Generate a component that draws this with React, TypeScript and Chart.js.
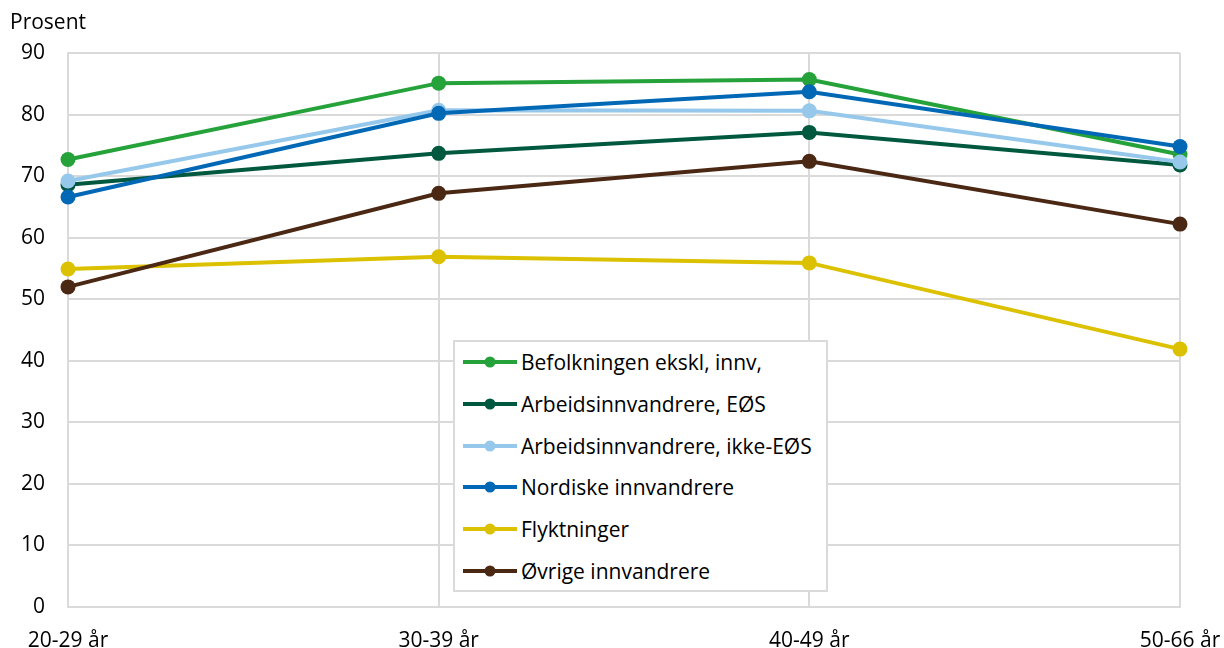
import React, { useEffect, useRef } from "react";
import { Chart, registerables } from "chart.js";

Chart.register(...registerables);

const categories = ["20-29 år", "30-39 år", "40-49 år", "50-66 år"];
const seriesNames = [
  "Befolkningen ekskl, innv,",
  "Arbeidsinnvandrere, EØS",
  "Arbeidsinnvandrere, ikke-EØS",
  "Nordiske innvandrere",
  "Flyktninger",
  "Øvrige innvandrere",
];
const befolkning = [72.7, 85.1, 85.7, 73.5];
const eos = [68.6, 73.7, 77.1, 71.8];
const ikkeEos = [69.2, 80.7, 80.6, 72.3];
const nordiske = [66.6, 80.2, 83.7, 74.8];
const flyktninger = [54.9, 56.9, 55.9, 41.9];
const ovrige = [52.0, 67.2, 72.4, 62.2];
const colors = ["#25a23a", "#00583f", "#96c8ec", "#0068b5", "#dcc100", "#4a2814"];
const yTicks = [0, 10, 20, 30, 40, 50, 60, 70, 80, 90];

const FONT = "'Open Sans', sans-serif";
const FS = 21;

export default function App() {
  const ref = useRef<HTMLCanvasElement | null>(null);
  useEffect(() => {
    const values = [befolkning, eos, ikkeEos, nordiske, flyktninger, ovrige];
    const chart = new Chart(ref.current as HTMLCanvasElement, {
      type: "line",
      data: {
        labels: categories,
        datasets: values.map((v, i) => ({
          label: seriesNames[i],
          data: v,
          borderColor: colors[i],
          backgroundColor: colors[i],
          pointBackgroundColor: colors[i],
          pointBorderColor: colors[i],
          borderWidth: 4,
          pointRadius: 7.5,
          pointBorderWidth: 0,
          tension: 0,
          clip: false as any,
          order: 10 - i,
        })),
      },
      options: {
        animation: false,
        responsive: false,
        maintainAspectRatio: false,
        layout: { padding: { left: 0, right: 44, top: 53, bottom: 0 } },
        plugins: { legend: { display: false }, tooltip: { enabled: false }, title: { display: false } },
        scales: {
          x: {
            offset: false,
            grid: { color: "#dadada", lineWidth: 2, drawTicks: false },
            border: { color: "#dadada", width: 2 },
            ticks: { color: "#000", font: { family: FONT, size: FS }, padding: 21, maxRotation: 0, autoSkip: false },
            afterFit: (s: any) => {
              s.height = 41;
              s.paddingLeft = 0;
              s.paddingRight = 0;
            },
          },
          y: {
            min: 0,
            max: 90,
            afterBuildTicks: (s: any) => { s.ticks = yTicks.map((v) => ({ value: v })); },
            grid: { color: "#dadada", lineWidth: 2, drawTicks: false },
            border: { color: "#dadada", width: 2 },
            ticks: { color: "#000", font: { family: FONT, size: FS }, padding: 23 },
            afterFit: (s: any) => {
              s.width = 68;
              s.paddingTop = 0;
              s.paddingBottom = 0;
            },
          },
        },
      },
    });
    return () => chart.destroy();
  }, []);

  const rowTop = 340;
  return (
    <div style={{ position: "fixed", left: 0, top: 0, width: 1224, height: 648, background: "#fff", fontFamily: FONT }}>
      <canvas ref={ref} width={1224} height={648} style={{ position: "absolute", left: 0, top: 0, width: 1224, height: 648 }} />
      <div style={{ position: "absolute", left: 10, top: 7, fontSize: FS, color: "#000", lineHeight: "28px" }}>Prosent</div>
      <div
        style={{
          position: "absolute",
          left: 453,
          top: rowTop,
          width: 371,
          height: 248,
          border: "2px solid #dadada",
          background: "#fff",
        }}
      >
        {seriesNames.map((name, i) => (
          <div key={name} style={{ position: "absolute", left: 0, top: 6 + i * 41.8, height: 28, display: "flex", alignItems: "center" }}>
            <svg width={66} height={28} style={{ display: "block" }}>
              <line x1={8} y1={14} x2={62} y2={14} stroke={colors[i]} strokeWidth={4} />
              <circle cx={35} cy={14} r={5.5} fill={colors[i]} />
            </svg>
            <span style={{ fontSize: FS, color: "#000", whiteSpace: "nowrap", lineHeight: "28px" }}>{name}</span>
          </div>
        ))}
      </div>
    </div>
  );
}
